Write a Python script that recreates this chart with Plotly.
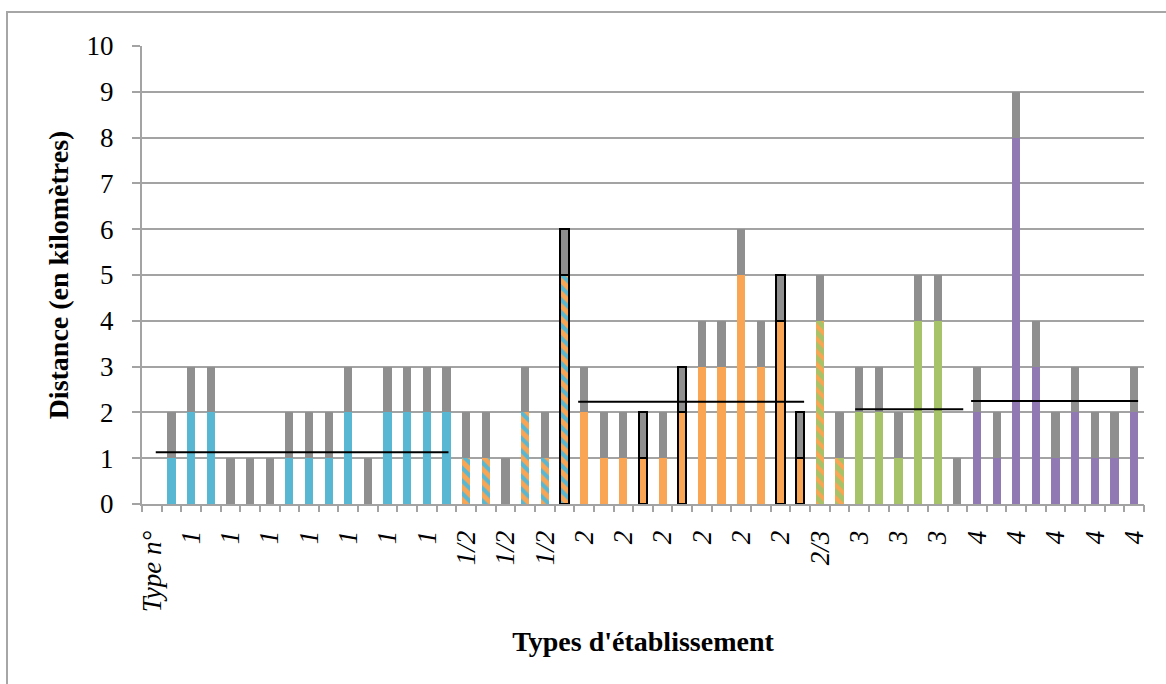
import plotly.graph_objects as go

# ---------------- data ----------------
# category positions 0..50 ; labels shown on every second category
label_positions = [0, 2, 4, 6, 8, 10, 12, 14, 16, 18, 20, 22, 24, 26, 28, 30, 32, 34, 36, 38, 40, 42, 44, 46, 48, 50]
tick_labels = ["Type n°", "1", "1", "1", "1", "1", "1", "1", "1/2", "1/2", "1/2",
               "2", "2", "2", "2", "2", "2", "2/3", "3", "3", "3", "4", "4", "4", "4", "4"]

bar_positions = list(range(1, 51))
# type of establishment for each bar ("-" = no coloured part)
bar_types = ["1", "1", "1", "1", "1", "1", "1", "1", "1", "1", "1", "1", "1", "1", "1",
             "1/2", "1/2", "-", "1/2", "1/2", "1/2",
             "2", "2", "2", "2", "2", "2", "2", "2", "2", "2", "2", "2",
             "2/3", "2/3",
             "3", "3", "3", "3", "3", "-",
             "4", "4", "4", "4", "4", "4", "4", "4", "4"]
# coloured (lower) part of each bar, in km
main_values = [1, 2, 2, 0, 0, 0, 1, 1, 1, 2, 0, 2, 2, 2, 2,
               1, 1, 0, 2, 1, 5,
               2, 1, 1, 1, 1, 2, 3, 3, 5, 3, 4, 1,
               4, 1,
               2, 2, 1, 4, 4, 0,
               2, 1, 8, 3, 1, 2, 1, 1, 2]
# grey (upper) part of each bar, in km
extra_values = [1, 1, 1, 1, 1, 1, 1, 1, 1, 1, 1, 1, 1, 1, 1,
                1, 1, 1, 1, 1, 1,
                1, 1, 1, 1, 1, 1, 1, 1, 1, 1, 1, 1,
                1, 1,
                1, 1, 1, 1, 1, 1,
                1, 1, 1, 1, 1, 1, 1, 1, 1]
# bars drawn with a black outline
outlined_bars = [21, 25, 27, 32, 33]

# mean lines per group
mean_x_start = [0.2, 21.7, 35.8, 41.7]
mean_x_end = [15.1, 33.2, 41.3, 50.2]
mean_values = [1.13, 2.23, 2.07, 2.25]

# ---------------- styles ----------------
BLUE = "#58B8D3"
ORANGE = "#F9A553"
GREEN = "#A6C36A"
PURPLE = "#9179B3"
GREY = "#8F8F8F"
GRID = "#A3A3A3"
FONT = "Liberation Serif"
BAR_W = 0.42

style_by_type = {
    "1": dict(color=BLUE),
    "2": dict(color=ORANGE),
    "3": dict(color=GREEN),
    "4": dict(color=PURPLE),
    "1/2": dict(color=ORANGE, pattern=dict(shape="\\", bgcolor=ORANGE, fgcolor=BLUE,
                                              size=9, solidity=0.45, fillmode="replace")),
    "2/3": dict(color=GREEN, pattern=dict(shape="\\", bgcolor=GREEN, fgcolor=ORANGE,
                                             size=9, solidity=0.45, fillmode="replace")),
}

fig = go.Figure()

for t in ["1", "1/2", "2", "2/3", "3", "4"]:
    xs, ys, lw = [], [], []
    for p, bt, v in zip(bar_positions, bar_types, main_values):
        if bt == t:
            xs.append(p)
            ys.append(v)
            lw.append(2 if p in outlined_bars else 0)
    st = style_by_type[t]
    marker = dict(color=st["color"], line=dict(color="black", width=lw))
    if "pattern" in st:
        marker["pattern"] = st["pattern"]
    fig.add_trace(go.Bar(x=xs, y=ys, width=BAR_W, marker=marker, name="Type " + t,
                         showlegend=False))

fig.add_trace(go.Bar(
    x=bar_positions, y=extra_values, width=BAR_W,
    marker=dict(color=GREY, line=dict(color="black",
                                      width=[2 if p in outlined_bars else 0 for p in bar_positions])),
    showlegend=False, name="extra"))

for x0, x1, m in zip(mean_x_start, mean_x_end, mean_values):
    fig.add_trace(go.Scatter(x=[x0, x1], y=[m, m], mode="lines", xaxis="x2",
                             line=dict(color="black", width=2), showlegend=False,
                             hoverinfo="skip"))

W, H = 1166, 684
L, R, T, B = 142, 22, 46, 180
pw, ph = W - L - R, H - T - B

fig.update_layout(
    width=W, height=H,
    barmode="stack", bargap=0,
    paper_bgcolor="white", plot_bgcolor="white",
    margin=dict(l=L, r=R, t=T, b=B, autoexpand=False),
    font=dict(family=FONT, color="black"),
    xaxis=dict(
        range=[-0.5, 50.5], tickmode="array", tickvals=label_positions, ticktext=tick_labels,
        tickangle=-90, ticks="", showgrid=False, zeroline=False,
        showline=True, linecolor=GRID, linewidth=2,
        tickfont=dict(family=FONT, size=27, style="italic"),
        ticklabelstandoff=14,
        title=dict(text="<b>Types d'établissement</b>", font=dict(family=FONT, size=28),
                   standoff=20),
        automargin=False,
    ),
    xaxis2=dict(
        range=[-0.5, 50.5], overlaying="x", anchor="y", side="bottom",
        tickmode="linear", tick0=-0.5, dtick=1, ticks="outside", ticklen=7,
        tickcolor=GRID, tickwidth=2, showticklabels=False, showgrid=False,
        zeroline=False, showline=False,
    ),
    yaxis=dict(
        range=[0, 10], dtick=1, ticks="outside", ticklen=8, tickcolor=GRID, tickwidth=2,
        showgrid=True, gridcolor=GRID, gridwidth=2, zeroline=False,
        showline=True, linecolor=GRID, linewidth=2,
        tickfont=dict(family=FONT, size=27),
        ticklabelstandoff=13,
        title=dict(text="<b>Distance (en kilomètres)</b>", font=dict(family=FONT, size=28),
                   standoff=10),
        automargin=False,
    ),
    shapes=[dict(type="rect", xref="paper", yref="paper",
                 x0=(7 - L) / pw, x1=(W + 10 - L) / pw,
                 y0=-(H + 10 - T - ph) / ph, y1=1 + (T - 12) / ph,
                 line=dict(color="#A6A6A6", width=2), fillcolor="rgba(0,0,0,0)", layer="below")],
)

fig.write_html("out.html", config={"displayModeBar": False},
               post_script="document.body.style.margin='0';")
